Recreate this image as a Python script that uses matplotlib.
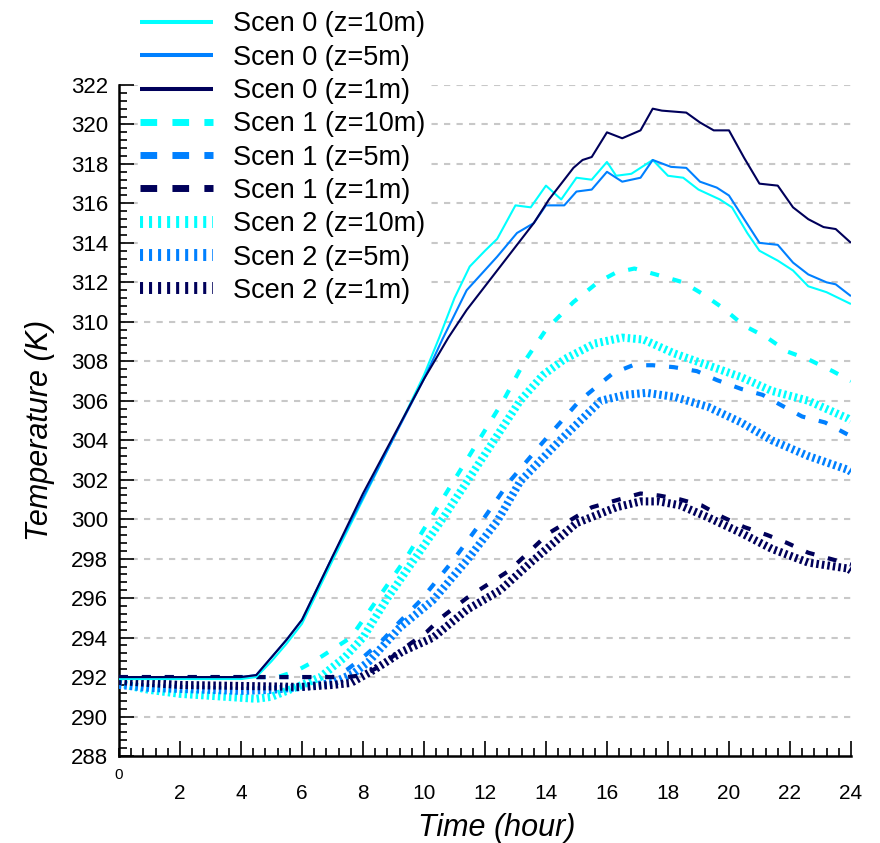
import matplotlib
matplotlib.use('Agg')

import matplotlib.pyplot as plt
import numpy as np
from matplotlib.ticker import MultipleLocator

plt.rcParams['font.family'] = ['Liberation Sans', 'DejaVu Sans']
plt.rcParams['lines.scale_dashes'] = False

# ---------- data (hour, K) ----------
# Scen 0 : solid
t_s0_10 = [0, 1, 2, 3, 4, 4.5, 5, 5.5, 6, 7, 8, 9, 10, 10.5, 11, 11.5, 12, 12.4, 13, 13.5,
           14, 14.5, 15, 15.5, 16, 16.3, 16.8, 17.5, 18, 18.5, 19, 19.7, 20.1, 20.6, 21,
           21.6, 22.1, 22.6, 23.2, 24]
T_s0_10 = [291.9, 291.9, 291.9, 291.9, 291.9, 292.0, 292.8, 293.7, 294.7, 297.9, 301.0, 304.1,
           307.3, 309.2, 311.2, 312.8, 313.6, 314.2, 315.9, 315.8, 316.9, 316.2, 317.3, 317.2,
           318.1, 317.4, 317.5, 318.2, 317.4, 317.3, 316.7, 316.2, 315.8, 314.5, 313.6, 313.1,
           312.6, 311.8, 311.5, 310.9]

t_s0_5 = [0, 1, 2, 3, 4, 4.5, 5, 5.5, 6, 7, 8, 9, 10, 10.6, 11.4, 12.4, 13.05, 13.6, 14.0,
          14.6, 15.0, 15.5, 16.0, 16.5, 17.1, 17.5, 18.1, 18.6, 19.05, 19.6, 20.0, 20.5, 21.0,
          21.6, 22.1, 22.6, 23.2, 23.5, 24]
T_s0_5 = [292.0, 292.0, 292.0, 292.0, 292.0, 292.1, 293.0, 293.9, 294.9, 298.1, 301.1, 304.1,
          307.1, 309.1, 311.6, 313.3, 314.5, 315.0, 315.9, 315.9, 316.6, 316.7, 317.6, 317.1,
          317.3, 318.2, 317.85, 317.8, 317.1, 316.8, 316.4, 315.2, 314.0, 313.9, 313.0, 312.4,
          312.0, 311.9, 311.3]

t_s0_1 = [0, 1, 2, 3, 4, 4.5, 5, 5.5, 6, 7, 8, 9, 10, 10.8, 11.4, 12.4, 13.6, 14.1, 14.9,
          15.2, 15.5, 16.0, 16.5, 17.1, 17.5, 17.8, 18.6, 19.05, 19.5, 20.0, 20.5, 21.0, 21.6,
          22.1, 22.6, 23.1, 23.5, 24]
T_s0_1 = [292.0, 292.0, 292.0, 292.0, 292.0, 292.1, 293.0, 293.9, 294.9, 298.1, 301.3, 304.2,
          307.1, 309.2, 310.6, 312.6, 315.0, 316.2, 317.8, 318.2, 318.35, 319.6, 319.3, 319.7,
          320.8, 320.7, 320.6, 320.1, 319.7, 319.7, 318.3, 317.0, 316.9, 315.8, 315.2, 314.8,
          314.7, 314.0]

# Scen 1 : dashed
t_s1_10 = [0, 2, 4, 5.2, 5.8, 6.4, 7.0, 7.6, 8.5, 9.4, 10.2, 11.0, 11.8, 12.6, 13.3, 14.0,
           14.9, 15.7, 16.3, 16.9, 17.6, 18.5, 19.15, 19.8, 20.5, 21.25, 21.9, 22.6, 23.4, 24]
T_s1_10 = [292.0, 292.0, 292.0, 292.0, 292.3, 292.8, 293.4, 294.0, 296.0, 298.0, 300.0, 302.0,
           304.0, 306.0, 308.0, 309.6, 311.0, 312.0, 312.5, 312.7, 312.4, 312.0, 311.4, 310.7,
           309.8, 309.2, 308.5, 308.1, 307.5, 307.0]

t_s1_5 = [0, 2, 4, 6, 7.0, 7.5, 8.0, 8.6, 9.2, 9.9, 10.95, 11.9, 12.8, 13.9, 15.1, 16.2,
          16.85, 17.5, 18.2, 18.95, 19.6, 20.4, 21.1, 21.8, 22.4, 23.15, 24]
T_s1_5 = [292.0, 292.0, 292.0, 292.0, 292.0, 292.4, 293.0, 293.8, 294.8, 295.9, 297.9, 299.9,
          301.9, 303.9, 306.0, 307.4, 307.8, 307.8, 307.7, 307.5, 307.05, 306.6, 306.3, 305.7,
          305.2, 304.9, 304.2]

t_s1_1 = [0, 2, 4, 6, 7, 7.5, 8.0, 8.5, 9.2, 10.1, 10.6, 11.4, 12.1, 12.8, 14.1, 15.5, 16.4,
          17.1, 17.7, 18.4, 19.1, 19.8, 20.5, 21.25, 21.9, 22.6, 23.3, 24]
T_s1_1 = [292.0, 292.0, 292.0, 292.0, 292.0, 292.0, 292.1, 292.5, 293.3, 294.3, 295.05, 296.0,
          296.7, 297.4, 299.3, 300.6, 301.0, 301.3, 301.2, 301.0, 300.7, 300.1, 299.6, 299.2,
          298.8, 298.3, 298.0, 297.7]

# Scen 2 : dotted
t_s2_10 = [0, 0.5, 1, 1.5, 2, 3, 4, 4.5, 5, 5.5, 6, 6.6, 7.4, 8.0, 8.8, 9.7, 10.6, 11.45,
           12.3, 13.15, 13.9, 14.6, 15.6, 16.5, 17.2, 18.2, 19.3, 20.4, 21.4, 22.6, 23.9, 24]
T_s2_10 = [291.7, 291.5, 291.35, 291.25, 291.15, 291.05, 290.95, 290.9, 291.0, 291.3, 291.6,
           292.0, 293.0, 294.0, 296.0, 298.0, 300.0, 302.0, 304.0, 306.0, 307.3, 308.1, 308.9,
           309.2, 309.1, 308.4, 307.8, 307.2, 306.5, 306.0, 305.1, 305.0]

t_s2_5 = [0, 1, 2, 3, 4, 5, 6, 7, 7.7, 8.2, 9.2, 10.3, 11.4, 12.4, 13.15, 14.4, 15.8, 16.6,
          17.3, 18.2, 19.3, 20.4, 21.4, 22.6, 23.9, 24]
T_s2_5 = [291.6, 291.45, 291.4, 291.35, 291.3, 291.35, 291.5, 291.7, 292.2, 292.8, 294.5,
          295.9, 297.9, 299.9, 301.9, 303.9, 306.0, 306.3, 306.4, 306.2, 305.7, 304.9, 304.0,
          303.2, 302.5, 302.4]

t_s2_1 = [0, 2, 4, 6, 7, 7.6, 8.4, 9.3, 10.3, 11.4, 12.5, 13.5, 15.0, 16.3, 17.1, 17.7, 18.4,
          19.3, 20.4, 21.4, 22.6, 23.9, 24]
T_s2_1 = [291.8, 291.6, 291.55, 291.5, 291.6, 291.7, 292.4, 293.3, 294.0, 295.4, 296.4, 297.8,
          299.8, 300.6, 300.9, 300.9, 300.7, 300.1, 299.3, 298.5, 297.8, 297.5, 297.4]

labels = ['Scen 0 (z=10m)', 'Scen 0 (z=5m)', 'Scen 0 (z=1m)',
          'Scen 1 (z=10m)', 'Scen 1 (z=5m)', 'Scen 1 (z=1m)',
          'Scen 2 (z=10m)', 'Scen 2 (z=5m)', 'Scen 2 (z=1m)']

c10, c5, c1 = '#00FFFF', '#0080FF', '#00005A'

series = [
    (t_s0_10, T_s0_10, c10, 0), (t_s0_5, T_s0_5, c5, 0), (t_s0_1, T_s0_1, c1, 0),
    (t_s1_10, T_s1_10, c10, 1), (t_s1_5, T_s1_5, c5, 1), (t_s1_1, T_s1_1, c1, 1),
    (t_s2_10, T_s2_10, c10, 2), (t_s2_5, T_s2_5, c5, 2), (t_s2_1, T_s2_1, c1, 2),
]

# line style per scenario: (plot lw, plot dashes, legend lw, legend dashes, zorder)
styles = {
    0: (1.5, None, 2.9, None, 5),
    1: (3.0, (6.5, 10.0), 5.0, (12.0, 11.0), 4),
    2: (5.8, (1.8, 2.2), 8.6, (2.2, 4.3), 3),
}

fig = plt.figure(figsize=(8.8, 8.43), dpi=100)
ax = fig.add_axes([0.1352, 0.1032, 0.967 - 0.1352, 0.8992 - 0.1032])

handles = []
for (tt, TT, col, sc), lab in zip(series, labels):
    lw, dsh, _, _, zo = styles[sc]
    ln, = ax.plot(tt, TT, color=col, lw=lw, label=lab, zorder=zo,
                  solid_capstyle='butt', dash_capstyle='butt')
    if dsh is not None:
        ln.set_dashes(dsh)
    handles.append(ln)

ax.set_xlim(0, 24)
ax.set_ylim(288, 322)

# horizontal dashed grid
for yy in np.arange(290, 323, 2):
    ax.axhline(yy, color='#c8c8c8', lw=1.5, dashes=(4.5, 4.5), zorder=1)

ax.spines['top'].set_visible(False)
ax.spines['right'].set_visible(False)
ax.spines['left'].set_linewidth(1.8)
ax.spines['bottom'].set_linewidth(1.8)

ax.set_xticks(np.arange(2, 25, 2))
ax.xaxis.set_minor_locator(MultipleLocator(0.4))
ax.set_yticks(np.arange(288, 323, 2))
ax.yaxis.set_minor_locator(MultipleLocator(0.4))
ax.tick_params(which='major', direction='in', length=11, width=1.2)
ax.tick_params(which='minor', direction='in', length=5.5, width=1.2)
ax.tick_params(axis='x', which='major', labelsize=15, pad=20)
ax.tick_params(axis='y', which='major', labelsize=16, pad=8)
ax.text(0, -0.018, '0', transform=ax.get_xaxis_transform(), ha='center', va='top',
        fontsize=11)

ax.set_xlabel('Time (hour)', fontsize=22, style='italic')
ax.set_ylabel('Temperature (K)', fontsize=22, style='italic')
ax.xaxis.set_label_coords(0.516, -0.085)
ax.yaxis.set_label_coords(-0.087, 0.485)

leg = ax.legend(handles=handles, loc='upper left', bbox_to_anchor=(139 / 880, 1 - 10 / 843),
                bbox_transform=fig.transFigure, fontsize=19.5, frameon=True,
                handlelength=2.7, handletextpad=0.72, labelspacing=0.27,
                borderpad=0.05, borderaxespad=0, fancybox=False)
leg.get_frame().set_edgecolor('none')
leg.get_frame().set_facecolor('white')
leg.get_frame().set_alpha(1)
leg.set_zorder(10)
for ln, (tt, TT, col, sc) in zip(leg.get_lines(), series):
    _, _, llw, ldsh, _ = styles[sc]
    ln.set_linewidth(llw)
    ln.set_solid_capstyle('butt')
    ln.set_dash_capstyle('butt')
    if ldsh is not None:
        ln.set_dashes(ldsh)

fig.savefig('out.png', dpi=100)
